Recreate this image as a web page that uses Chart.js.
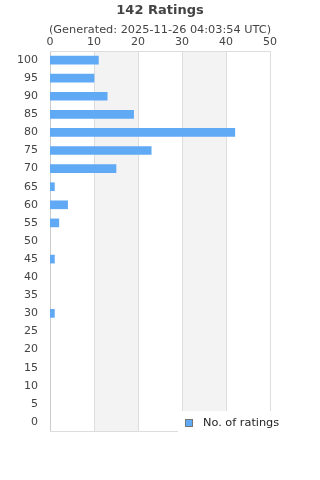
<!DOCTYPE html>
<html><head><meta charset="utf-8">
<script src="https://cdn.jsdelivr.net/npm/chart.js@4/dist/chart.umd.min.js"></script>
<style>html,body{margin:0;padding:0;background:#fff}#w{width:320px;height:480px}</style>
</head><body><div id="w"><canvas id="c" width="320" height="480"></canvas></div>
<script>
const categories = ["100","95","90","85","80","75","70","65","60","55","50","45","40","35","30","25","20","15","10","5","0"];
const ratings = [11,10,13,19,42,23,15,1,4,2,0,1,0,0,1,0,0,0,0,0,0];
const xTicks = [0,10,20,30,40,50];
const shadedBands = [[10,20],[30,40]];
const titleText = "142 Ratings";
const subtitleText = "(Generated: 2025-11-26 04:03:54 UTC)";
const seriesLabel = "No. of ratings";
const BAR_COLOR = '#60a9f4';
const FONT = "'DejaVu Sans', sans-serif";

const deco = {
  id: 'deco',
  beforeDatasetsDraw(chart) {
    const {ctx, chartArea: a, scales: {x}} = chart;
    ctx.save();
    ctx.fillStyle = '#f3f3f3';
    shadedBands.forEach(([s,e]) => {
      const x0 = x.getPixelForValue(s), x1 = x.getPixelForValue(e);
      ctx.fillRect(x0, a.top, x1 - x0, a.bottom - a.top);
    });
    ctx.lineWidth = 1;
    xTicks.forEach(v => {
      ctx.strokeStyle = v === 0 ? '#cccccc' : '#dddddd';
      const px = Math.round(x.getPixelForValue(v)) + 0.5;
      ctx.beginPath(); ctx.moveTo(px, a.top); ctx.lineTo(px, a.bottom); ctx.stroke();
    });
    ctx.strokeStyle = '#dddddd';
    ctx.beginPath(); ctx.moveTo(a.left, Math.round(a.top)+0.5); ctx.lineTo(a.right, Math.round(a.top)+0.5); ctx.stroke();
    ctx.beginPath(); ctx.moveTo(a.left, Math.round(a.bottom)+0.5); ctx.lineTo(a.right, Math.round(a.bottom)+0.5); ctx.stroke();
    ctx.restore();
  },
  afterDraw(chart) {
    const {ctx} = chart;
    ctx.save();
    ctx.fillStyle = '#444';
    ctx.textAlign = 'center'; ctx.textBaseline = 'middle';
    ctx.font = 'bold 13px ' + FONT;
    ctx.fillText(titleText, 160, 11);
    ctx.font = '11.3px ' + FONT;
    ctx.fillText(subtitleText, 160, 30);
    // legend overlay
    ctx.fillStyle = '#ffffff';
    ctx.fillRect(178, 411, 142, 22);
    const ds = chart.data.datasets[0];
    ctx.fillStyle = BAR_COLOR;
    ctx.fillRect(185, 419, 8, 8);
    ctx.strokeStyle = '#777'; ctx.lineWidth = 1;
    ctx.strokeRect(185.5, 419.5, 7, 7);
    ctx.fillStyle = '#222';
    ctx.textAlign = 'left';
    ctx.font = '11.3px ' + FONT;
    ctx.fillText(ds.label, 203, 423);
    ctx.restore();
  }
};

new Chart(document.getElementById('c'), {
  type: 'bar',
  data: { labels: categories, datasets: [{ label: seriesLabel, data: ratings,
    backgroundColor: c => (c.raw === 0 ? 'rgba(0,0,0,0)' : BAR_COLOR), barThickness: 8, borderWidth: 0 }] },
  options: {
    indexAxis: 'y', responsive: false, animation: false,
    layout: { padding: { top: 31, right: 50, bottom: 49, left: 0 } },
    plugins: { legend: { display: false }, title: { display: false }, tooltip: { enabled: false } },
    scales: {
      x: { position: 'top', min: 0, max: 50, afterBuildTicks: s => { s.ticks = xTicks.map(v => ({value: v})); },
           grid: { display: false, drawTicks: false }, border: { display: false },
           ticks: { color: '#444', font: { family: FONT, size: 11 }, padding: 2 },
           afterFit: s => { s.height = 20; } },
      y: { grid: { display: false, drawTicks: false }, border: { display: false },
           ticks: { color: '#444', font: { family: FONT, size: 11 }, padding: 12, autoSkip: false },
           afterFit: s => { s.width = 50; } }
    }
  },
  plugins: [deco]
});
</script></body></html>
